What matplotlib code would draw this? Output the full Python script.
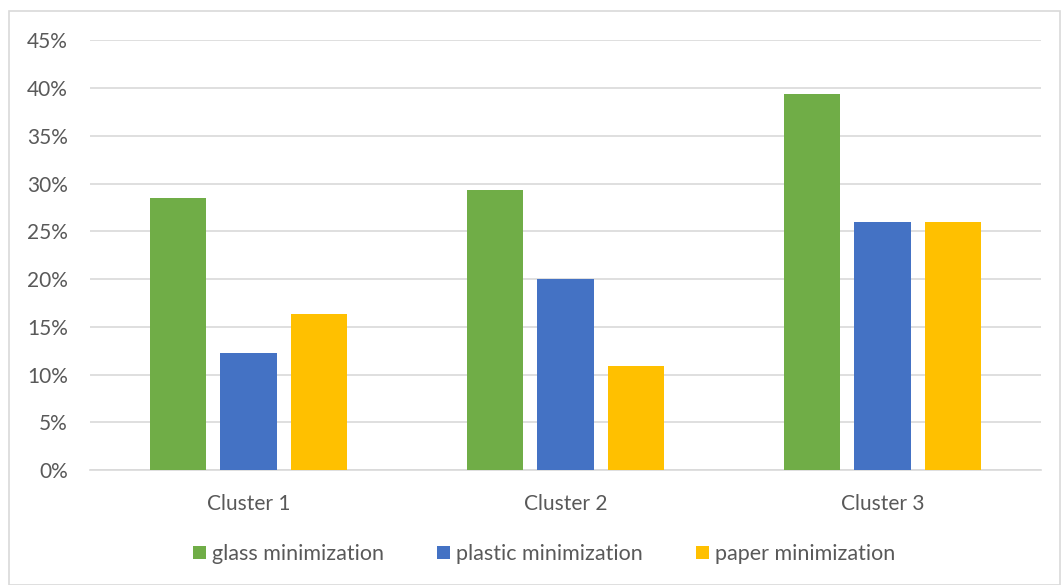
import matplotlib
matplotlib.use("Agg")
import matplotlib.pyplot as plt
import numpy as np
from matplotlib.patches import Rectangle
from matplotlib.ticker import FuncFormatter, MultipleLocator

categories = ["Cluster 1", "Cluster 2", "Cluster 3"]
glass = [28.5, 29.35, 39.33]
plastic = [12.25, 20.0, 26.0]
paper = [16.3, 10.9, 26.0]
series_names = ["glass minimization", "plastic minimization", "paper minimization"]
colors = ["#70AD47", "#4472C4", "#FFC000"]

plt.rcParams['font.family'] = ['Lato', 'DejaVu Sans']

fig = plt.figure(figsize=(10.63, 5.85), dpi=100)
ax = fig.add_axes([90/1063, 1-470/585, 951/1063, (470-40.3)/585])

x = np.arange(len(categories))
w = 0.177
off = 0.222
for i, (vals, name, c) in enumerate(zip([glass, plastic, paper], series_names, colors)):
    ax.bar(x + (i-1)*off, vals, width=w, color=c, label=name, zorder=3)

ax.set_xlim(-0.5, 2.5)
ax.set_ylim(0, 45)
ax.yaxis.set_major_locator(MultipleLocator(5))
ax.yaxis.set_major_formatter(FuncFormatter(lambda v, p: f"{v:.0f}%"))
ax.set_xticks(x)
ax.set_xticklabels(categories)
ax.grid(axis='y', color='#d9d9d9', linewidth=1.2, zorder=0)
for s in ['top', 'right', 'left']:
    ax.spines[s].set_visible(False)
ax.spines['bottom'].set_color('#d9d9d9')
ax.spines['bottom'].set_linewidth(1.2)
ax.tick_params(axis='both', length=0, labelsize=15, colors='#595959')
ax.tick_params(axis='y', pad=16)
ax.tick_params(axis='x', pad=17)

handles, labels = ax.get_legend_handles_labels()
fig.legend(handles, labels, loc='center', bbox_to_anchor=(544/1063, 1-554/585), ncol=3,
           frameon=False, fontsize=15.5, labelcolor='#595959', handlelength=0.6,
           handleheight=0.6, handletextpad=0.25, columnspacing=2.5)

fig.patches.append(Rectangle((9/1063, 0), (1060-9)/1063, 1-11/585, transform=fig.transFigure,
                             fill=False, edgecolor='#d9d9d9', linewidth=1.2))

fig.savefig("out.png", dpi=100)
